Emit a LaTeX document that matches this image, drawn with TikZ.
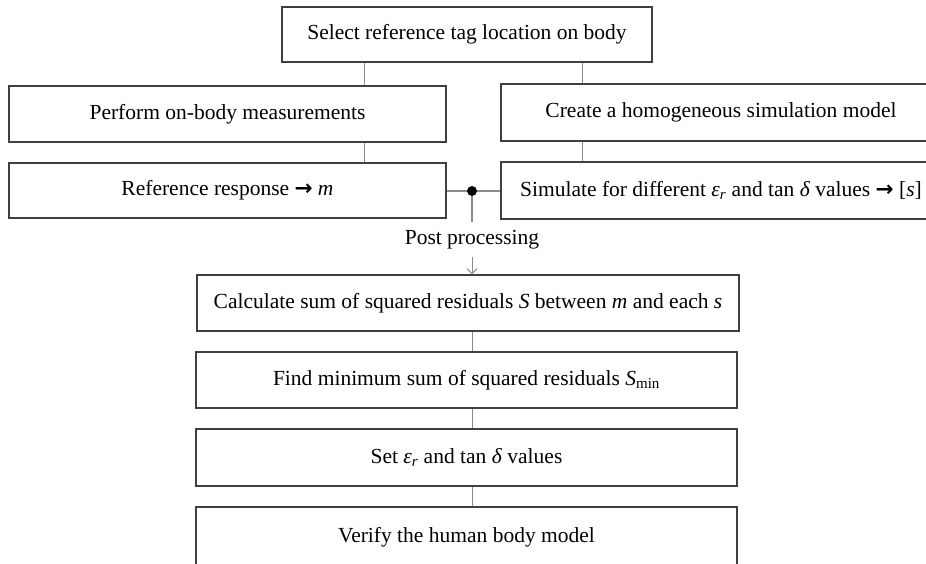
\documentclass[tikz,border=0pt]{standalone}
\usepackage{fontspec}
\setmainfont{Liberation Serif}
\newfontfamily\arrowfont{DejaVu Sans}
\usetikzlibrary{arrows.meta}
\newcommand{\barrow}{{\arrowfont\bfseries →}}
\newcommand{\epsr}{\textit{ε}\textsubscript{\textit{r}}}
\tikzset{
  box/.style={draw=black!75, line width=1.2pt, inner sep=0pt, font=\fontsize{21.5}{25}\selectfont},
  conn/.style={draw=black!45, line width=1pt},
}
\begin{document}
\begin{tikzpicture}[x=1pt,y=-1pt]
\useasboundingbox (0,0) rectangle (926,563);
\clip (0,0) rectangle (926,563);
\node[box, minimum width=370pt, minimum height=55pt] (top) at (467,34.5) {Select reference tag location on body};
\node[box, minimum width=437pt, minimum height=56pt] (perf) at (227.5,114) {Perform on-body measurements};
\node[box, minimum width=440pt, minimum height=57pt] (create) at (721,112.5) {Create a homogeneous simulation model};
\node[box, minimum width=437pt, minimum height=55pt] (ref) at (227.5,190.5) {Reference response \barrow{} \textit{m}};
\node[box, minimum width=440pt, minimum height=57pt] (sim) at (721,190.5) {Simulate for different \epsr{} and tan \textit{δ} values \barrow{} [\textit{s}]};
\node[box, minimum width=542pt, minimum height=56pt] (calc) at (468,303) {Calculate sum of squared residuals \textit{S} between \textit{m} and each \textit{s}};
\node[box, minimum width=541pt, minimum height=56pt] (find) at (466.5,380) {Find minimum sum of squared residuals \textit{S}\textsubscript{min}};
\node[box, minimum width=541pt, minimum height=57pt] (set) at (466.5,457.5) {Set \epsr{} and tan \textit{δ} values};
\node[box, minimum width=541pt, minimum height=60pt] (ver) at (466.5,537) {Verify the human body model};

\coordinate (xl) at (364,0);
\coordinate (xr) at (582,0);
\coordinate (j) at (472,191);
\coordinate (jb) at (472,222);
\coordinate (pa) at (472,257);

\draw[conn] (top.south -| xl) -- (perf.north -| xl);
\draw[conn] (top.south -| xr) -- (create.north -| xr);
\draw[conn] (perf.south -| xl) -- (ref.north -| xl);
\draw[conn] (create.south -| xr) -- (sim.north -| xr);
\draw[conn, line width=1.4pt] (ref.east |- j) -- (sim.west |- j);
\draw[conn, line width=1.4pt] (j) -- (jb);
\fill (j) circle (5pt);
\node[font=\fontsize{21.5}{25}\selectfont, inner sep=0pt] (pp) at (472,240) {Post processing};
\draw[conn, -{Straight Barb[length=5pt,width=10pt]}] (pa) -- (calc.north -| pa);
\draw[conn] (calc.south -| j) -- (find.north -| j);
\draw[conn] (find.south -| j) -- (set.north -| j);
\draw[conn] (set.south -| j) -- (ver.north -| j);
\end{tikzpicture}
\end{document}
